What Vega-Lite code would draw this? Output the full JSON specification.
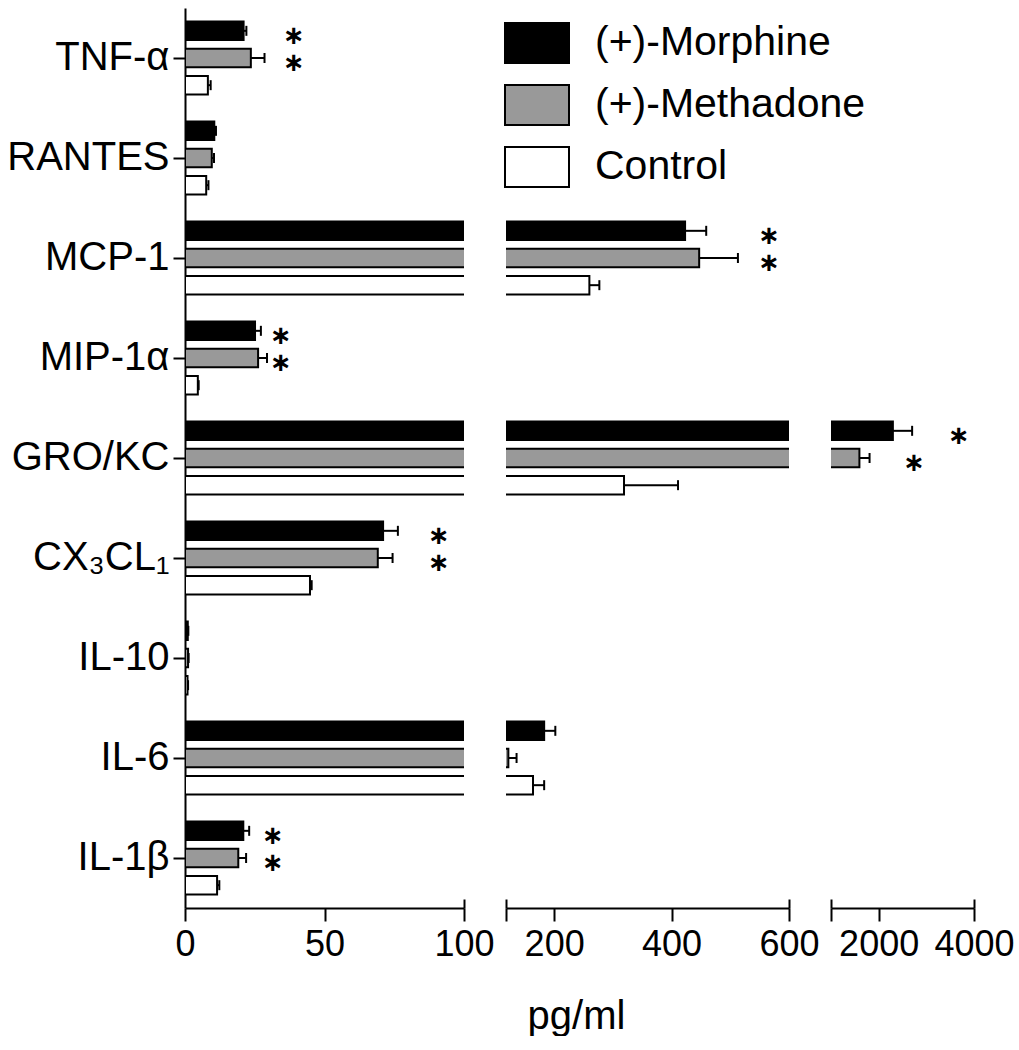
{
  "$schema": "https://vega.github.io/schema/vega-lite/v6.json",
  "background": "white",
  "padding": {"left": 6, "top": 8, "right": 0, "bottom": 0},
  "autosize": {"type": "pad"},
  "datasets": {
    "bars": [
      {"cytokine": "TNF-α", "group": "(+)-Morphine", "value": 21, "upper": 22},
      {"cytokine": "TNF-α", "group": "(+)-Methadone", "value": 23.6, "upper": 28.5},
      {"cytokine": "TNF-α", "group": "Control", "value": 8.2, "upper": 9.2},
      {"cytokine": "RANTES", "group": "(+)-Morphine", "value": 10.5, "upper": 11.1},
      {"cytokine": "RANTES", "group": "(+)-Methadone", "value": 9.6, "upper": 10.4},
      {"cytokine": "RANTES", "group": "Control", "value": 7.6, "upper": 8.4},
      {"cytokine": "MCP-1", "group": "(+)-Morphine", "value": 423, "upper": 459},
      {"cytokine": "MCP-1", "group": "(+)-Methadone", "value": 447, "upper": 513},
      {"cytokine": "MCP-1", "group": "Control", "value": 260, "upper": 277},
      {"cytokine": "MIP-1α", "group": "(+)-Morphine", "value": 25.1, "upper": 27.2},
      {"cytokine": "MIP-1α", "group": "(+)-Methadone", "value": 26.2, "upper": 29.4},
      {"cytokine": "MIP-1α", "group": "Control", "value": 4.6, "upper": 4.9},
      {"cytokine": "GRO/KC", "group": "(+)-Morphine", "value": 2298, "upper": 2702},
      {"cytokine": "GRO/KC", "group": "(+)-Methadone", "value": 1596, "upper": 1809},
      {"cytokine": "GRO/KC", "group": "Control", "value": 319, "upper": 411},
      {"cytokine": "CX₃CL₁", "group": "(+)-Morphine", "value": 71, "upper": 76.3},
      {"cytokine": "CX₃CL₁", "group": "(+)-Methadone", "value": 69.1, "upper": 74.4},
      {"cytokine": "CX₃CL₁", "group": "Control", "value": 44.8, "upper": 45.4},
      {"cytokine": "IL-10", "group": "(+)-Morphine", "value": 1.0, "upper": 1.2},
      {"cytokine": "IL-10", "group": "(+)-Methadone", "value": 1.1, "upper": 1.3},
      {"cytokine": "IL-10", "group": "Control", "value": 0.9, "upper": 1.1},
      {"cytokine": "IL-6", "group": "(+)-Morphine", "value": 183, "upper": 202},
      {"cytokine": "IL-6", "group": "(+)-Methadone", "value": 122, "upper": 136},
      {"cytokine": "IL-6", "group": "Control", "value": 164, "upper": 183},
      {"cytokine": "IL-1β", "group": "(+)-Morphine", "value": 20.9, "upper": 23},
      {"cytokine": "IL-1β", "group": "(+)-Methadone", "value": 19.1, "upper": 21.9},
      {"cytokine": "IL-1β", "group": "Control", "value": 11.5, "upper": 12.3}
    ],
    "stars": [
      {"cytokine": "TNF-α", "group": "(+)-Morphine", "x": 39},
      {"cytokine": "TNF-α", "group": "(+)-Methadone", "x": 39},
      {"cytokine": "MCP-1", "group": "(+)-Morphine", "x": 566},
      {"cytokine": "MCP-1", "group": "(+)-Methadone", "x": 566},
      {"cytokine": "MIP-1α", "group": "(+)-Morphine", "x": 34.4},
      {"cytokine": "MIP-1α", "group": "(+)-Methadone", "x": 34.4},
      {"cytokine": "GRO/KC", "group": "(+)-Morphine", "x": 3681},
      {"cytokine": "GRO/KC", "group": "(+)-Methadone", "x": 2745},
      {"cytokine": "CX₃CL₁", "group": "(+)-Morphine", "x": 91},
      {"cytokine": "CX₃CL₁", "group": "(+)-Methadone", "x": 91},
      {"cytokine": "IL-1β", "group": "(+)-Morphine", "x": 31.5},
      {"cytokine": "IL-1β", "group": "(+)-Methadone", "x": 31.5}
    ]
  },
  "config": {
    "view": {"stroke": null},
    "font": "Liberation Sans",
    "axis": {"grid": false, "domainColor": "black", "tickColor": "black", "labelColor": "black", "titleColor": "black", "domainWidth": 2, "tickWidth": 2, "labelFont": "Liberation Sans", "titleFont": "Liberation Sans", "titleFontWeight": "normal"}
  },
  "resolve": {"scale": {"x": "independent"}},
  "bounds": "flush",
  "spacing": 42,
  "hconcat": [
    {
      "width": 279, "height": 900,
      "resolve": {"axis": {"x": "independent"}},
      "encoding": {
        "y": {"field": "cytokine", "type": "nominal", "scale": {"domain": ["TNF-α", "RANTES", "MCP-1", "MIP-1α", "GRO/KC", "CX₃CL₁", "IL-10", "IL-6", "IL-1β"], "paddingInner": 0, "paddingOuter": 0},
              "axis": {"title": null, "labelFontSize": 40, "tickSize": 12, "labelPadding": 4, "labelLimit": 0}},
        "yOffset": {"field": "group", "type": "nominal", "scale": {"domain": ["(+)-Morphine", "(+)-Methadone", "Control"], "paddingInner": 0.32, "paddingOuter": 0.5}}
      },
      "layer": [
        {"data": {"name": "bars"}, "mark": {"type": "bar", "clip": true, "stroke": "black", "strokeWidth": 2},
         "encoding": {
           "x": {"field": "value", "type": "quantitative", "stack": null, "scale": {"domain": [0, 100], "nice": false, "zero": false},
                 "axis": {"orient": "bottom", "values": [0, 50, 100], "title": null, "labelFontSize": 36, "labelFlush": false, "tickSize": 13, "labelPadding": 6}},
           "x2": {"datum": 0},
           "fill": {"field": "group", "type": "nominal", "scale": {"domain": ["(+)-Morphine", "(+)-Methadone", "Control"], "range": ["#000000", "#999999", "#ffffff"]},
                    "legend": {"orient": "none", "legendX": 331, "legendY": 14, "title": null, "padding": 0, "labelFontSize": 41, "labelLimit": 0, "labelColor": "black", "labelFont": "Liberation Sans", "symbolType": "M-1.6,-1L1.6,-1L1.6,1L-1.6,1Z", "symbolSize": 1600, "symbolStrokeColor": "black", "symbolStrokeWidth": 2, "symbolOpacity": 1, "labelOffset": 37, "rowPadding": 14}}
         }},
        {"data": {"name": "bars"}, "mark": {"type": "rule", "clip": true, "color": "black", "strokeWidth": 2},
         "encoding": {"x": {"field": "value", "type": "quantitative", "axis": null}, "x2": {"field": "upper"}}},
        {"data": {"name": "bars"}, "mark": {"type": "tick", "clip": true, "orient": "vertical", "color": "black", "size": 10, "thickness": 2, "opacity": 1},
         "encoding": {"x": {"field": "upper", "type": "quantitative",
                            "axis": {"orient": "bottom", "values": [100], "tickSize": -9, "labels": false, "domain": false, "title": null}}}},
        {"data": {"name": "stars"}, "transform": [{"filter": "datum.x <= 100"}],
         "mark": {"type": "text", "clip": true, "text": "∗", "fontSize": 26, "fontWeight": "bold", "font": "DejaVu Sans", "baseline": "alphabetic", "align": "center", "dy": 13, "color": "black"},
         "encoding": {"x": {"field": "x", "type": "quantitative", "axis": null}}}
      ]
    },
    {
      "width": 283, "height": 900,
      "resolve": {"axis": {"x": "independent"}},
      "encoding": {
        "y": {"field": "cytokine", "type": "nominal", "scale": {"domain": ["TNF-α", "RANTES", "MCP-1", "MIP-1α", "GRO/KC", "CX₃CL₁", "IL-10", "IL-6", "IL-1β"], "paddingInner": 0, "paddingOuter": 0}, "axis": null},
        "yOffset": {"field": "group", "type": "nominal", "scale": {"domain": ["(+)-Morphine", "(+)-Methadone", "Control"], "paddingInner": 0.32, "paddingOuter": 0.5}}
      },
      "layer": [
        {"data": {"name": "bars"}, "mark": {"type": "bar", "clip": true, "stroke": "black", "strokeWidth": 2},
         "encoding": {
           "x": {"field": "value", "type": "quantitative", "stack": null, "scale": {"domain": [118, 600], "nice": false, "zero": false},
                 "axis": {"orient": "bottom", "values": [118, 200, 400, 600], "labelExpr": "datum.value < 150 ? '' : datum.label", "title": "pg/ml", "titleFontSize": 40, "titleX": 70, "titlePadding": 34, "labelFontSize": 36, "labelFlush": false, "tickSize": 13, "labelPadding": 6}},
           "x2": {"datum": 0},
           "fill": {"field": "group", "type": "nominal", "scale": {"domain": ["(+)-Morphine", "(+)-Methadone", "Control"], "range": ["#000000", "#999999", "#ffffff"]}}
         }},
        {"data": {"name": "bars"}, "mark": {"type": "rule", "clip": true, "color": "black", "strokeWidth": 2},
         "encoding": {"x": {"field": "value", "type": "quantitative", "axis": null}, "x2": {"field": "upper"}}},
        {"data": {"name": "bars"}, "mark": {"type": "tick", "clip": true, "orient": "vertical", "color": "black", "size": 10, "thickness": 2, "opacity": 1},
         "encoding": {"x": {"field": "upper", "type": "quantitative",
                            "axis": {"orient": "bottom", "values": [118, 600], "tickSize": -9, "labels": false, "domain": false, "title": null}}}},
        {"data": {"name": "stars"}, "transform": [{"filter": "datum.x > 100 && datum.x <= 600"}],
         "mark": {"type": "text", "clip": true, "text": "∗", "fontSize": 26, "fontWeight": "bold", "font": "DejaVu Sans", "baseline": "alphabetic", "align": "center", "dy": 13, "color": "black"},
         "encoding": {"x": {"field": "x", "type": "quantitative", "axis": null}}}
      ]
    },
    {
      "width": 143, "height": 900,
      "resolve": {"axis": {"x": "independent"}},
      "encoding": {
        "y": {"field": "cytokine", "type": "nominal", "scale": {"domain": ["TNF-α", "RANTES", "MCP-1", "MIP-1α", "GRO/KC", "CX₃CL₁", "IL-10", "IL-6", "IL-1β"], "paddingInner": 0, "paddingOuter": 0}, "axis": null},
        "yOffset": {"field": "group", "type": "nominal", "scale": {"domain": ["(+)-Morphine", "(+)-Methadone", "Control"], "paddingInner": 0.32, "paddingOuter": 0.5}}
      },
      "layer": [
        {"data": {"name": "bars"}, "mark": {"type": "bar", "clip": true, "stroke": "black", "strokeWidth": 2},
         "encoding": {
           "x": {"field": "value", "type": "quantitative", "stack": null, "scale": {"domain": [1000, 4000], "nice": false, "zero": false},
                 "axis": {"orient": "bottom", "values": [1000, 2000, 4000], "labelExpr": "datum.value < 1500 ? '' : format(datum.value, 'd')", "title": null, "labelFontSize": 36, "labelFlush": false, "labelOverlap": false, "tickSize": 13, "labelPadding": 6}},
           "x2": {"datum": 0},
           "fill": {"field": "group", "type": "nominal", "scale": {"domain": ["(+)-Morphine", "(+)-Methadone", "Control"], "range": ["#000000", "#999999", "#ffffff"]}}
         }},
        {"data": {"name": "bars"}, "mark": {"type": "rule", "clip": true, "color": "black", "strokeWidth": 2},
         "encoding": {"x": {"field": "value", "type": "quantitative", "axis": null}, "x2": {"field": "upper"}}},
        {"data": {"name": "bars"}, "mark": {"type": "tick", "clip": true, "orient": "vertical", "color": "black", "size": 10, "thickness": 2, "opacity": 1},
         "encoding": {"x": {"field": "upper", "type": "quantitative",
                            "axis": {"orient": "bottom", "values": [1000, 4000], "tickSize": -9, "labels": false, "domain": false, "title": null}}}},
        {"data": {"name": "stars"}, "transform": [{"filter": "datum.x >= 1000"}],
         "mark": {"type": "text", "clip": true, "text": "∗", "fontSize": 26, "fontWeight": "bold", "font": "DejaVu Sans", "baseline": "alphabetic", "align": "center", "dy": 13, "color": "black"},
         "encoding": {"x": {"field": "x", "type": "quantitative", "axis": null}}}
      ]
    }
  ]
}
